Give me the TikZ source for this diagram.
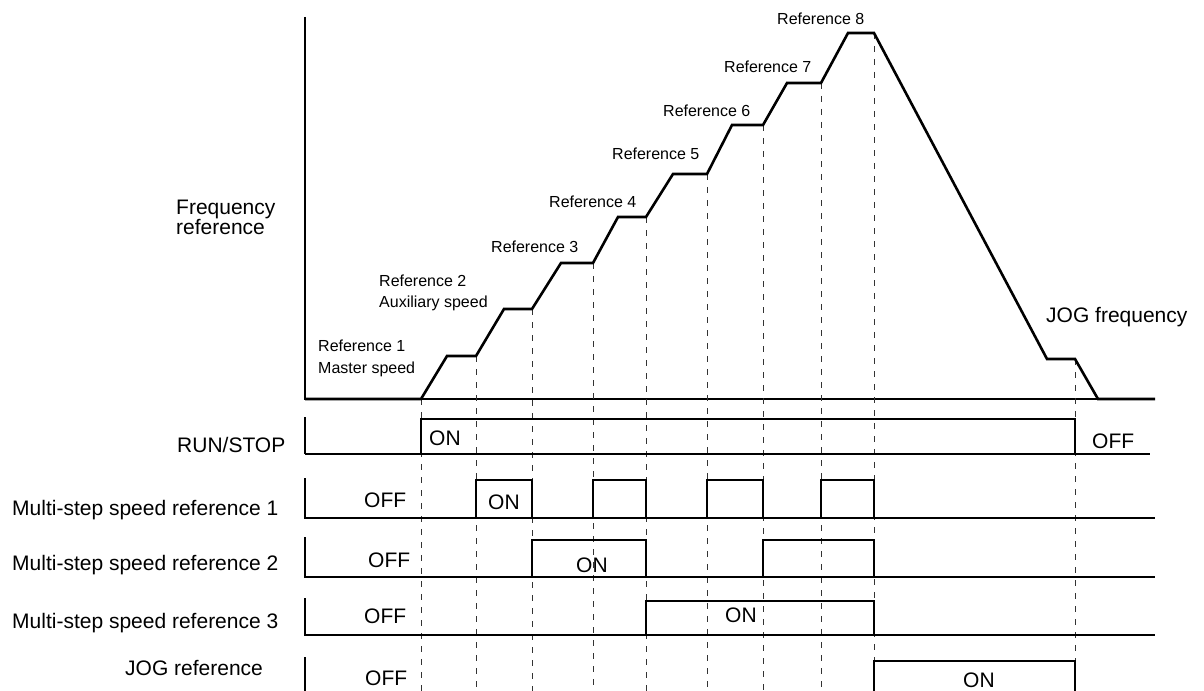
\documentclass[tikz,border=0pt]{standalone}
\usepackage{fontspec}
\setmainfont{Liberation Sans}
\begin{document}
\begin{tikzpicture}[x=1bp,y=-1bp,
  big/.style={font=\fontsize{21bp}{24bp}\selectfont, anchor=base west, inner sep=0pt},
  small/.style={font=\fontsize{16bp}{19bp}\selectfont, anchor=base west, inner sep=0pt},
  sig/.style={line width=2.6bp, line join=miter},
  thinline/.style={line width=1.1bp},
  guide/.style={dash pattern=on 6bp off 7bp, line width=1bp, black!80}]
\useasboundingbox (0,0) rectangle (1204,691);
\clip (0,0) rectangle (1204,691);

% ---------- frequency graph ----------
\coordinate (axtop) at (305,17);
\coordinate (axorg) at (305,399);
\coordinate (axend) at (1155,399);
\draw[thinline] (axtop) -- (axorg) -- (axend);

% corner points of the profile
\coordinate (s0) at (421,399);
\coordinate (p1) at (447,356);  \coordinate (e1) at (476,356);
\coordinate (p2) at (504,309);  \coordinate (e2) at (532,309);
\coordinate (p3) at (561,263);  \coordinate (e3) at (593,263);
\coordinate (p4) at (618,217);  \coordinate (e4) at (646,217);
\coordinate (p5) at (673,174);  \coordinate (e5) at (707,174);
\coordinate (p6) at (732,125);  \coordinate (e6) at (763,125);
\coordinate (p7) at (787,83);   \coordinate (e7) at (821,83);
\coordinate (p8) at (848,33);   \coordinate (e8) at (874,33);
\coordinate (pj) at (1047,359); \coordinate (ej) at (1075,359);
\coordinate (z0) at (1098,399);

% dashed guides
\foreach \c/\x in {s0/421,e1/476,e2/532,e3/593,e4/646,e5/707,e6/763,e7/821,e8/874,ej/1075}{
  \coordinate (b\c) at (\x,700);
  \draw[guide] (\c) -- (b\c);
}

\draw[sig] (axorg) -- (s0) -- (p1) -- (e1) -- (p2) -- (e2) -- (p3) -- (e3)
  -- (p4) -- (e4) -- (p5) -- (e5) -- (p6) -- (e6) -- (p7) -- (e7) -- (p8) -- (e8)
  -- (pj) -- (ej) -- (z0) -- (axend);

% labels of the frequency graph
\node[big]   (fq1) at (176,215) {Frequency};
\node[big]   (fq2) at (176,235) {reference};
\node[small] (r1a) at (318,351) {Reference 1};
\node[small] (r1b) at (318,373) {Master speed};
\node[small] (r2a) at (379,286) {Reference 2};
\node[small] (r2b) at (379,307) {Auxiliary speed};
\node[small] (r3)  at (491,252) {Reference 3};
\node[small] (r4)  at (549,208) {Reference 4};
\node[small] (r5)  at (612,160) {Reference 5};
\node[small] (r6)  at (663,117) {Reference 6};
\node[small] (r7)  at (724,73)  {Reference 7};
\node[small] (r8)  at (777,25)  {Reference 8};
\node[big]   (jf)  at (1046,322) {JOG frequency};

% ---------- RUN/STOP ----------
\draw[thinline] (305,417) -- (305,454);
\draw[thinline] (421,454) -- (1075,454);
\draw[sig] (305,454) -- (421,454) -- (421,419) -- (1075,419) -- (1075,454) -- (1150,454);
\node[big] (lrun) at (177,452) {RUN/STOP};
\node[big] (run1) at (429,445) {ON};
\node[big] (run0) at (1092,448) {OFF};

% ---------- Multi-step speed reference 1 ----------
\draw[thinline] (305,478) -- (305,518) -- (1155,518);
\draw[sig] (305,518) -- (476,518) -- (476,480) -- (532,480) -- (532,518)
  -- (593,518) -- (593,480) -- (646,480) -- (646,518)
  -- (707,518) -- (707,480) -- (763,480) -- (763,518)
  -- (821,518) -- (821,480) -- (874,480) -- (874,518) -- (1155,518);
\node[big] (lm1) at (12,515) {Multi-step speed reference 1};
\node[big] (m1o) at (364,507) {OFF};
\node[big] (m1n) at (488,509) {ON};

% ---------- Multi-step speed reference 2 ----------
\draw[thinline] (305,537) -- (305,577) -- (1155,577);
\draw[sig] (305,577) -- (532,577) -- (532,540) -- (646,540) -- (646,577)
  -- (763,577) -- (763,540) -- (874,540) -- (874,577) -- (1155,577);
\node[big] (lm2) at (12,570) {Multi-step speed reference 2};
\node[big] (m2o) at (368,567) {OFF};
\node[big] (m2n) at (576,572) {ON};

% ---------- Multi-step speed reference 3 ----------
\draw[thinline] (305,598) -- (305,635) -- (1155,635);
\draw[sig] (305,635) -- (646,635) -- (646,601) -- (874,601) -- (874,635) -- (1155,635);
\node[big] (lm3) at (12,628) {Multi-step speed reference 3};
\node[big] (m3o) at (364,623) {OFF};
\node[big] (m3n) at (725,622) {ON};

% ---------- JOG reference ----------
\draw[thinline] (305,657) -- (305,700);
\draw[sig] (874,700) -- (874,661) -- (1075,661) -- (1075,700);
\node[big] (ljog) at (125,675) {JOG reference};
\node[big] (jo)   at (365,685) {OFF};
\node[big] (jn)   at (963,687) {ON};
\end{tikzpicture}
\end{document}
